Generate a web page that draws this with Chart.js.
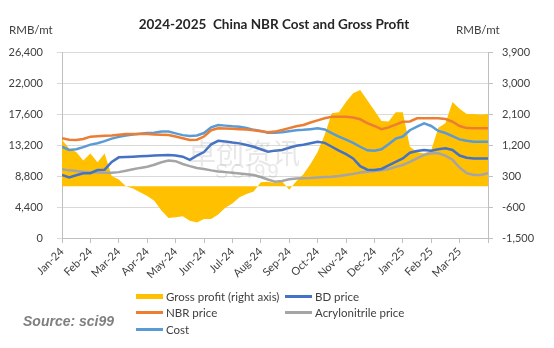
<!DOCTYPE html>
<html>
<head>
<meta charset="utf-8">
<script src="https://cdn.jsdelivr.net/npm/chart.js@4.4.0/dist/chart.umd.min.js"></script>
<style>
  body { margin: 0; background: #fff; }
  #wrap { position: relative; width: 554px; height: 348px; font-family: Lato, 'Open Sans', sans-serif; color: #404040; }
  #c { position: absolute; left: 0; top: 0; }
  .t { position: absolute; white-space: nowrap; }
  #title { left: 0; width: 548px; top: 16px; text-align: center; font-weight: bold; font-size: 13.5px; color: #262626; }
  .unit { top: 23px; font-size: 11.5px; }
  #source { left: 23px; top: 313px; font: italic bold 14px 'Liberation Sans', Arial, sans-serif; color: #7f7f7f; }
  #wm { left: 188px; top: 132px; font: 28px 'Noto Sans CJK SC', sans-serif; color: rgba(150,150,150,0.22); pointer-events: none; }
  #wm2 { left: 215px; top: 160px; font: 20px 'Liberation Sans', sans-serif; color: rgba(150,150,150,0.22); letter-spacing: 2px; }
  .lg { position: absolute; font-size: 11.5px; white-space: nowrap; display: flex; align-items: center; }
  .lg span.sw { display: inline-block; width: 27px; margin-right: 3px; }
</style>
</head>
<body>
<div id="wrap">
  <canvas id="c" width="554" height="348"></canvas>
  <div class="t" id="title">2024-2025&nbsp; China NBR Cost and Gross Profit</div>
  <div class="t unit" style="left:9px">RMB/mt</div>
  <div class="t unit" style="left:456px">RMB/mt</div>
  <div class="t" id="wm">卓创资讯</div>
  <div class="t" id="wm2">SCI99</div>
  <div class="t" id="source">Source: sci99</div>
  <div id="legend"></div>
</div>
<script>
// ── Data (weekly, Jan-24 → end Mar-25) ──────────────────────
const MONTHS = ['Jan-24','Feb-24','Mar-24','Apr-24','May-24','Jun-24','Jul-24',
                'Aug-24','Sep-24','Oct-24','Nov-24','Dec-24','Jan-25','Feb-25','Mar-25'];

const grossProfit = [
  1350, 1100, 1000, 750, 950, 700, 950, 300, 200, 0, -60, -170, -280, -420, -700, -920,
  -900, -870, -1000, -1050, -950, -950, -820, -620, -500, -320, -220, -150, 120, 130, 100, 150,
  -100, 150, 350, 650, 1000, 1500, 2120, 2150, 2450, 2700, 2800, 2500, 2200, 1900, 1880, 2150,
  2150, 1150, 1000, 950, 1050, 1700, 1830, 2450, 2250, 2100, 2100, 2080, 2100
];
const bdPrice = [
  8940, 8610, 8900, 9180, 9200, 9650, 9700, 10800, 11450, 11500, 11540, 11600, 11650, 11700, 11750, 11780,
  11700, 11540, 11100, 11700, 12200, 13300, 13800, 13700, 13550, 13430, 13200, 12950, 12600, 12250, 12400, 12490,
  12800, 13100, 13250, 13450, 13650, 13500, 12950, 12400, 11900, 11300, 10200, 9700, 9650, 9800, 10300, 10800,
  11300, 12100, 12350, 12490, 12400, 12600, 12720, 12500, 11700, 11400, 11300, 11300, 11300
];
const nbrPrice = [
  14150, 13950, 13900, 14050, 14380, 14450, 14500, 14550, 14650, 14750, 14750, 14750, 14750, 14700, 14650, 14620,
  14400, 14150, 13900, 13950, 14400, 15300, 15560, 15550, 15500, 15450, 15400, 15300, 15150, 15000, 15100, 15330,
  15600, 15850, 16050, 16400, 16700, 17000, 17200, 17210, 17210, 17100, 16850, 16300, 15900, 15450, 15700, 16100,
  16500, 16550, 16980, 17000, 17000, 17000, 16900, 16500, 15900, 15600, 15560, 15560, 15560
];
const acrylonitrilePrice = [
  9750, 9600, 9500, 9410, 9350, 9300, 9270, 9270, 9350, 9550, 9750, 9950, 10120, 10400, 10750, 11000,
  10900, 10500, 10200, 9950, 9800, 9600, 9450, 9350, 9250, 9150, 9050, 8950, 8650, 8300, 8000, 8100,
  8350, 8450, 8470, 8500, 8600, 8650, 8700, 8800, 8950, 9100, 9300, 9410, 9500, 9600, 9800, 10100,
  10360, 10800, 11300, 11800, 12020, 12020, 11700, 11100, 10000, 9200, 8940, 8950, 9180
];
const cost = [
  12950, 12500, 12600, 12900, 13250, 13450, 13750, 14100, 14350, 14550, 14700, 14800, 14900, 14950, 15100, 15100,
  14850, 14600, 14470, 14550, 14900, 15700, 16040, 15950, 15850, 15800, 15600, 15350, 15200, 14950, 14950, 15000,
  15150, 15300, 15350, 15450, 15560, 15400, 14900, 14380, 13950, 13500, 12950, 12450, 12400, 12600, 13300, 14100,
  14400, 15300, 15800, 16270, 15900, 15200, 14900, 14450, 14000, 13800, 13670, 13670, 13670
];

const weeks = nbrPrice.map((_, i) => i);
const WEEKS_PER_MONTH = 4;

const FONT = { family: 'Lato, "Open Sans", sans-serif', size: 11 };
const TEXT = '#404040';
const GRID = '#D9D9D9';

const line = (label, data, color) => ({
    label, data, borderColor: color, backgroundColor: color,
    borderWidth: 2.5, pointRadius: 0, tension: 0, yAxisID: 'y', order: 0,
});

const chart = new Chart(document.getElementById('c'), {
    type: 'line',
    data: {
        labels: weeks,
        datasets: [
            {
                label: 'Gross profit (right axis)', data: grossProfit, yAxisID: 'y1',
                borderWidth: 0, borderColor: '#FFC000', backgroundColor: '#FFC000',
                fill: 'origin', pointRadius: 0, tension: 0, order: 5,
                legendThick: 5,
            },
            line('BD price', bdPrice, '#4472C4'),
            line('NBR price', nbrPrice, '#ED7D31'),
            line('Acrylonitrile price', acrylonitrilePrice, '#A5A5A5'),
            line('Cost', cost, '#5B9BD5'),
        ]
    },
    options: {
        responsive: false,
        animation: false,
        layout: { padding: { top: 52, left: 0, right: 0, bottom: 0 } },
        plugins: { legend: { display: false }, tooltip: { enabled: false } },
        scales: {
            x: {
                type: 'linear', min: 0, max: weeks.length - 1,
                grid: { drawOnChartArea: false, drawTicks: true, tickLength: 5, color: '#BFBFBF' },
                border: { color: '#BFBFBF' },
                ticks: {
                    stepSize: WEEKS_PER_MONTH, autoSkip: false,
                    maxRotation: 45, minRotation: 45, padding: 2,
                    color: TEXT, font: FONT,
                    callback: v => MONTHS[v / WEEKS_PER_MONTH] ?? ''
                },
                afterFit: s => { s.height = 110; }
            },
            y: {
                position: 'left', min: 0, max: 26400,
                grid: { color: GRID, tickLength: 5 },
                border: { color: '#BFBFBF' },
                ticks: { stepSize: 4400, padding: 14, color: TEXT, font: FONT,
                         callback: v => v.toLocaleString('en-US') },
                afterFit: s => { s.width = 62; }
            },
            y1: {
                position: 'right', min: -1500, max: 3900,
                grid: { drawOnChartArea: false, tickLength: 5, color: '#BFBFBF' },
                border: { color: '#BFBFBF' },
                ticks: { stepSize: 900, padding: 9, color: TEXT, font: FONT,
                         callback: v => v.toLocaleString('en-US') },
                afterFit: s => { s.width = 66; }
            }
        }
    }
});

// ── Legend (2 columns, like the original) ───────────────────
const legend = document.getElementById('legend');
const COLS = [136, 285];
const ROWS = [290, 306, 323];
chart.data.datasets.forEach((ds, i) => {
    const el = document.createElement('div');
    el.className = 'lg';
    el.style.left = COLS[i % 2] + 'px';
    el.style.top = ROWS[Math.floor(i / 2)] + 'px';
    el.innerHTML = `<span class="sw" style="height:${ds.legendThick || 3}px;background:${ds.borderColor}"></span>${ds.label}`;
    legend.appendChild(el);
});
</script>
</body>
</html>
